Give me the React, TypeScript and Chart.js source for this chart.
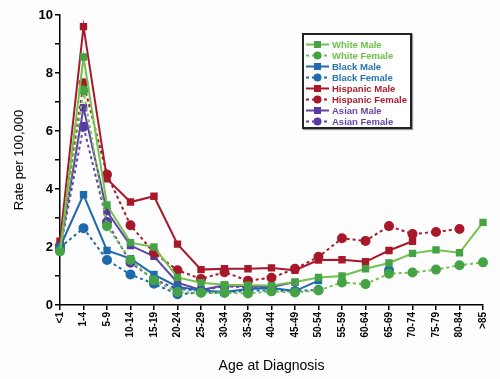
import React, { useEffect, useRef } from "react";
import { Chart, registerables } from "chart.js";
Chart.register(...registerables);

const categories = ["<1","1-4","5-9","10-14","15-19","20-24","25-29","30-34","35-39","40-44","45-49","50-54","55-59","60-64","65-69","70-74","75-79","80-84",">85"];

const whiteMale = [1.85, 8.55, 3.45, 2.15, 2.0, 0.95, 0.77, 0.7, 0.68, 0.67, 0.79, 0.95, 1.0, 1.25, 1.45, 1.78, 1.9, 1.8, 2.85];
const whiteFemale = [1.85, 7.4, 2.72, 1.55, 0.85, 0.45, 0.42, 0.42, 0.4, 0.47, 0.43, 0.5, 0.78, 0.72, 1.08, 1.12, 1.22, 1.37, 1.47];
const blackMale = [2.0, 3.8, 1.88, 1.6, 1.05, 0.63, 0.5, 0.45, 0.55, 0.59, 0.48, 0.84, null, null, null, null, null, null, null];
const blackFemale = [1.98, 2.65, 1.55, 1.05, 0.73, 0.37, 0.43, 0.42, 0.5, 0.5, 0.48, 0.52, null, null, 1.2, null, null, null, null];
const hispanicMale = [2.2, 9.6, 4.35, 3.55, 3.75, 2.1, 1.22, 1.25, 1.25, 1.28, 1.2, 1.55, 1.56, 1.49, 1.88, 2.2, null, null, null];
const hispanicFemale = [2.05, 7.65, 4.5, 2.75, 1.8, 1.2, 0.9, 1.13, 0.84, 0.94, 1.25, 1.66, 2.3, 2.21, 2.72, 2.45, 2.52, 2.62, null];
const asianMale = [1.95, 6.8, 3.22, 2.05, 1.68, 0.77, 0.52, 0.68, 0.65, 0.62, 0.79, null, null, null, null, null, null, null, null];
const asianFemale = [1.9, 6.15, 2.86, 1.46, 0.88, 0.55, 0.5, 0.65, 0.6, 0.58, null, null, null, null, null, null, null, null, null];

const FONT = "'Liberation Sans', Arial, Helvetica, sans-serif";

type S = { label: string; data: (number | null)[]; line: string; marker: string; text: string; female: boolean };
const series: S[] = [
  { label: "White Male", data: whiteMale, line: "#72c24e", marker: "#45a345", text: "#6cbf48", female: false },
  { label: "White Female", data: whiteFemale, line: "#72c24e", marker: "#45a345", text: "#6cbf48", female: true },
  { label: "Black Male", data: blackMale, line: "#1f6aad", marker: "#1f6aad", text: "#2672b5", female: false },
  { label: "Black Female", data: blackFemale, line: "#1f6aad", marker: "#1f6aad", text: "#2672b5", female: true },
  { label: "Hispanic Male", data: hispanicMale, line: "#a8182b", marker: "#a8182b", text: "#ad1d2f", female: false },
  { label: "Hispanic Female", data: hispanicFemale, line: "#a8182b", marker: "#a8182b", text: "#ad1d2f", female: true },
  { label: "Asian Male", data: asianMale, line: "#5e44a6", marker: "#5a3aa0", text: "#6548a8", female: false },
  { label: "Asian Female", data: asianFemale, line: "#5e44a6", marker: "#5a3aa0", text: "#6548a8", female: true },
];

function LegendBox() {
  return (
    <div style={{ position: "absolute", left: 302, top: 33, width: 106, height: 92, border: "2px solid #222", background: "#fff", boxShadow: "1px 1px 1px #999" }}>
      {series.map((s, i) => (
        <div key={s.label} style={{ position: "absolute", left: 0, top: 4 + i * 11, height: 11, display: "flex", alignItems: "center" }}>
          <svg width={28} height={11} style={{ display: "block" }}>
            <line x1={2} y1={5.5} x2={25} y2={5.5} stroke={s.line} strokeWidth={2} strokeDasharray={s.female ? "3,3" : undefined} />
            {s.female ? <circle cx={13.5} cy={5.5} r={4} fill={s.marker} /> : <rect x={10} y={2} width={7} height={7} fill={s.marker} />}
          </svg>
          <span style={{ fontFamily: FONT, fontWeight: "bold", fontSize: 9.5, color: s.text, whiteSpace: "nowrap", lineHeight: "11px" }}>{s.label}</span>
        </div>
      ))}
    </div>
  );
}

export default function App() {
  const ref = useRef<HTMLCanvasElement | null>(null);
  useEffect(() => {
    document.body.style.margin = "0";
    const ctx = ref.current!;
    const chart = new Chart(ctx, {
      type: "line",
      data: {
        labels: categories,
        datasets: series.map((s) => ({
          label: s.label,
          data: s.data,
          borderColor: s.line,
          backgroundColor: s.marker,
          pointBackgroundColor: s.marker,
          pointBorderColor: s.marker,
          pointStyle: s.female ? "circle" : "rect",
          pointRadius: s.female ? 4 : 3.8,
          borderWidth: 2,
          borderDash: s.female ? [3, 3] : [],
          spanGaps: false,
          tension: 0,
          fill: false,
        })),
      },
      options: {
        animation: false,
        responsive: false,
        maintainAspectRatio: false,
        layout: { padding: { top: 15, right: 17, left: 8, bottom: 0 } },
        plugins: { legend: { display: false }, tooltip: { enabled: false } },
        scales: {
          x: {
            offset: false,
            afterFit: (scale: any) => { scale.height = 74; },
            grid: { display: true, drawOnChartArea: false, drawTicks: true, tickLength: 5, color: "#000", lineWidth: 1.5 },
            border: { display: true, color: "#000", width: 1.5 },
            ticks: { autoSkip: false, minRotation: 90, maxRotation: 90, color: "#000", padding: 2, font: { family: FONT, size: 10, weight: "bold" } },
            title: { display: true, text: "Age at Diagnosis", color: "#000", padding: { top: 6 }, font: { family: FONT, size: 14 } },
          },
          y: {
            min: 0,
            max: 10,
            afterFit: (scale: any) => { scale.width = 52; },
            grid: { display: true, drawOnChartArea: false, drawTicks: true, tickLength: 5, color: "#000", lineWidth: 1.5 },
            border: { display: true, color: "#000", width: 1.5 },
            ticks: {
              stepSize: 1,
              color: "#000",
              padding: 2,
              font: { family: FONT, size: 13, weight: "bold" },
              callback: (v: any) => (Number(v) % 2 === 0 ? String(v) : ""),
            },
            title: { display: true, text: "Rate per 100,000", color: "#000", padding: { bottom: 4 }, font: { family: FONT, size: 13 } },
          },
        },
      },
    } as any);
    return () => chart.destroy();
  }, []);
  return (
    <div style={{ position: "relative", width: 500, height: 379, background: "#fcfdfc" }}>
      <canvas ref={ref} width={500} height={379} style={{ position: "absolute", left: 0, top: 0 }} />
      <LegendBox />
    </div>
  );
}
